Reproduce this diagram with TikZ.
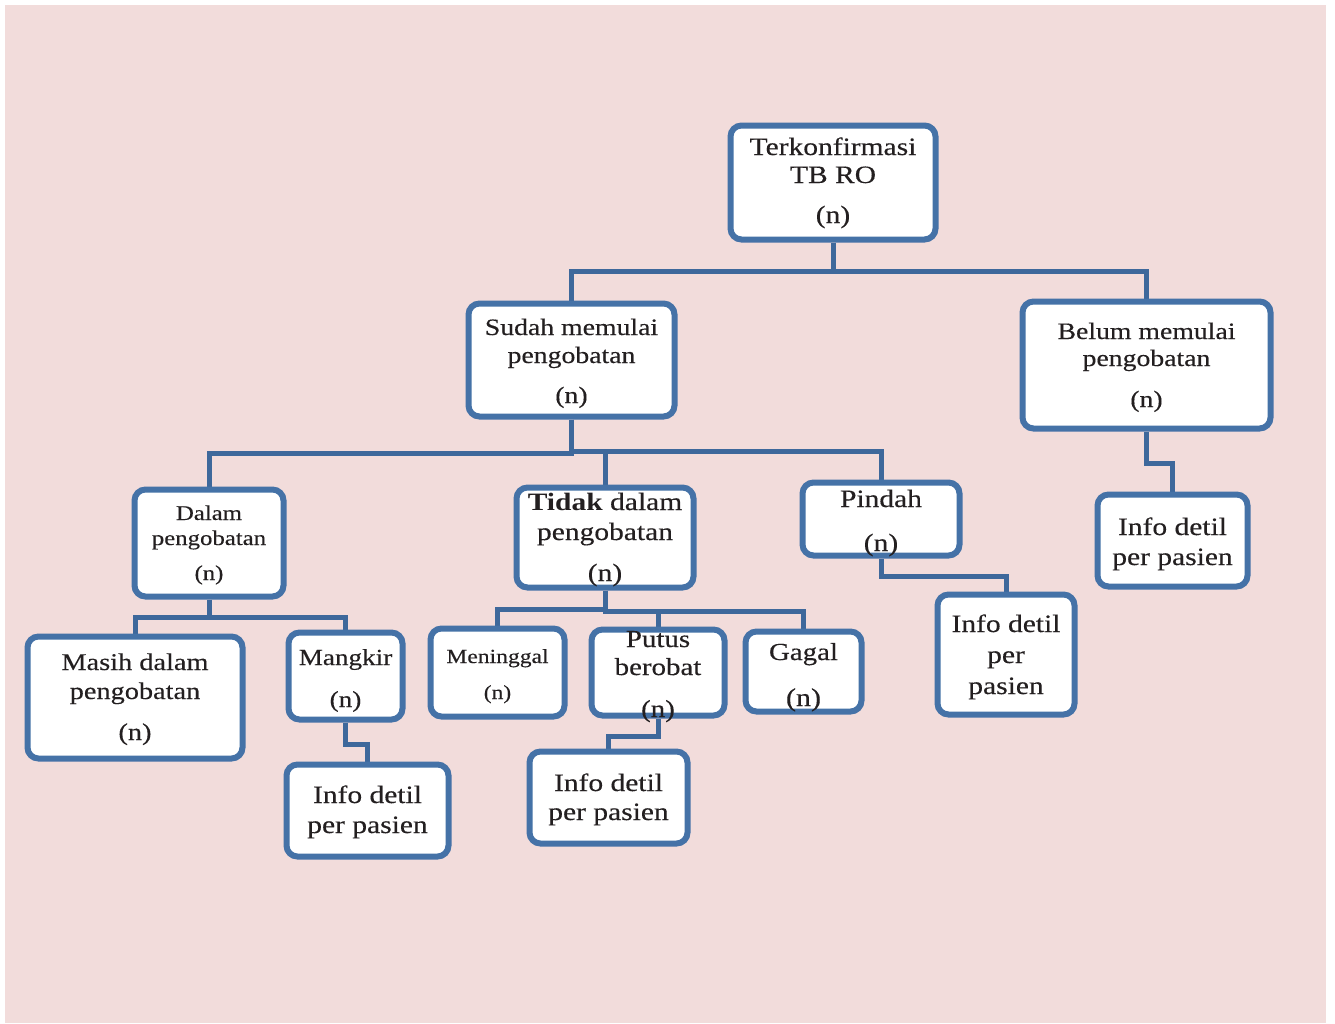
\documentclass[tikz,border=0pt]{standalone}
\usepackage{fontspec}
\setmainfont[FakeStretch=1.18, UprightFeatures={FakeBold=0.3}]{Liberation Serif}
\usetikzlibrary{backgrounds}
\definecolor{pinkbg}{RGB}{242,220,219}
\definecolor{boxblue}{RGB}{69,114,167}
\definecolor{connblue}{RGB}{62,104,155}
\definecolor{txtcol}{RGB}{35,31,32}
\tikzset{
  bx/.style={draw=boxblue, line width=6pt, fill=white, rounded corners=11pt, inner sep=0pt},
  conn/.style={draw=connblue, line width=5pt, line join=miter},
  txt/.style={anchor=base, inner sep=0pt, text=txtcol},
}
\newcommand\bx[5]{\node[bx, minimum width={(#4-#2-5)*1pt}, minimum height={(#5-#3-5)*1pt}] (#1) at ({(#2+#4)/2},{(#3+#5)/2}) {};}
\newcommand\tline[5]{\node[txt, font=\fontsize{#4}{#4}\selectfont] (#1) at (#2,#3) {#5};}
\begin{document}
\begin{tikzpicture}[x=1pt,y=-1pt]
\useasboundingbox (0,0) rectangle (1335,1023);
\begin{pgfonlayer}{background}
\fill[white] (0,0) rectangle (1335,1023);
\fill[pinkbg] (5,5) rectangle (1326,1023);
\end{pgfonlayer}

% boxes
\bx{term}{728}{123}{938}{242}
\bx{sudah}{466}{301}{677}{419}
\bx{belum}{1020}{299}{1273}{431}
\bx{dalam}{132}{487}{286}{599}
\bx{tidak}{514}{485}{696}{590}
\bx{pindah}{800}{480}{962}{558}
\bx{infoB}{1095}{492}{1250}{589}
\bx{masih}{25}{634}{245}{761}
\bx{mangkir}{286}{630}{405}{722}
\bx{infoM}{284}{762}{451}{859}
\bx{meninggal}{428}{626}{567}{719}
\bx{putus}{589}{627}{727}{718}
\bx{gagal}{743}{629}{864}{714}
\bx{infoP}{527}{749}{690}{846}
\bx{infoPi}{935}{592}{1077}{717}

% texts
\tline{term1}{833}{155}{25}{Terkonfirmasi}
\tline{term2}{833}{183}{25}{TB RO}
\tline{term3}{833}{223}{25}{(n)}
\tline{sudah1}{571.5}{335}{23.5}{Sudah memulai}
\tline{sudah2}{571.5}{363}{23.5}{pengobatan}
\tline{sudah3}{571.5}{403}{23.5}{(n)}
\tline{belum1}{1146.5}{339}{23.5}{Belum memulai}
\tline{belum2}{1146.5}{366}{23.5}{pengobatan}
\tline{belum3}{1146.5}{407}{23.5}{(n)}
\tline{dalam1}{209}{520}{21}{Dalam}
\tline{dalam2}{209}{545}{21}{pengobatan}
\tline{dalam3}{209}{580}{21}{(n)}
\tline{tidak1}{605}{510}{25}{\textbf{Tidak} dalam}
\tline{tidak2}{605}{540}{25}{pengobatan}
\tline{tidak3}{605}{581}{25}{(n)}
\tline{pindah1}{881}{507}{25}{Pindah}
\tline{pindah2}{881}{551}{25}{(n)}
\tline{infoB1}{1172.5}{535}{25}{Info detil}
\tline{infoB2}{1172.5}{565}{25}{per pasien}
\tline{masih1}{135}{670}{24}{Masih dalam}
\tline{masih2}{135}{699}{24}{pengobatan}
\tline{masih3}{135}{740}{24}{(n)}
\tline{mangkir1}{345.5}{665}{23}{Mangkir}
\tline{mangkir2}{345.5}{707}{23}{(n)}
\tline{infoM1}{367.5}{803}{25}{Info detil}
\tline{infoM2}{367.5}{833}{25}{per pasien}
\tline{meninggal1}{497.5}{663}{20}{Meninggal}
\tline{meninggal2}{497.5}{699}{20}{(n)}
\tline{putus1}{658}{647}{24.5}{Putus}
\tline{putus2}{658}{675}{24.5}{berobat}
\tline{putus3}{658}{717}{24.5}{(n)}
\tline{gagal1}{803.5}{660}{24.5}{Gagal}
\tline{gagal2}{803.5}{706}{25.5}{(n)}
\tline{infoP1}{608.5}{791}{25}{Info detil}
\tline{infoP2}{608.5}{820}{25}{per pasien}
\tline{infoPi1}{1006}{632}{25}{Info detil}
\tline{infoPi2}{1006}{663}{25}{per}
\tline{infoPi3}{1006}{694}{25}{pasien}

% connectors
\begin{pgfonlayer}{background}
\draw[conn] (term.south) -- ++(0,29) -| (sudah.north);
\draw[conn] (term.south) -- ++(0,29) -| (belum.north);
\draw[conn] (sudah.south) -- ++(0,34) -| (dalam.north);
\draw[conn] (sudah.south) -- ++(0,32) -| (tidak.north);
\draw[conn] (sudah.south) -- ++(0,32) -| (pindah.north);
\draw[conn] (belum.south) -- ++(0,32) -| (infoB.north);
\draw[conn] (dalam.south) -- ++(0,18) -| (masih.north);
\draw[conn] (dalam.south) -- ++(0,18) -| (mangkir.north);
\draw[conn] (mangkir.south) -- ++(0,22) -| (infoM.north);
\draw[conn] (tidak.south) -- ++(0,19) -| (meninggal.north);
\draw[conn] (tidak.south) -- ++(0,21) -| (putus.north);
\draw[conn] (tidak.south) -- ++(0,21) -| (gagal.north);
\draw[conn] (putus.south) -- ++(0,18) -| (infoP.north);
\draw[conn] (pindah.south) -- ++(0,18) -| (infoPi.north);
\end{pgfonlayer}
\end{tikzpicture}
\end{document}
